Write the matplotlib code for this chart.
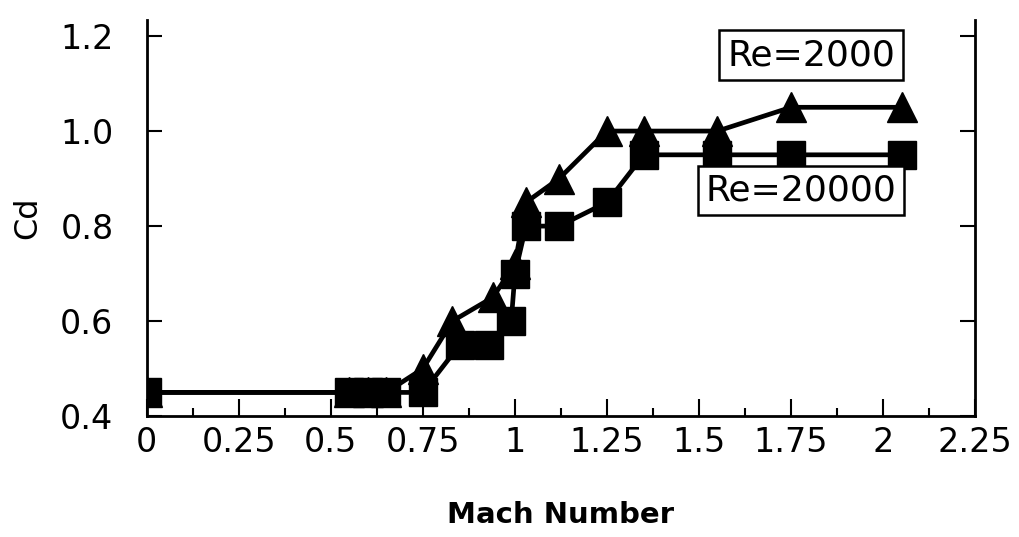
import numpy as np
import matplotlib.pyplot as plt
from matplotlib.ticker import MultipleLocator

# Re = 2000 (triangles)
mach_2000 = [0, 0.55, 0.6, 0.65, 0.75, 0.83, 0.94, 1.0, 1.03, 1.12, 1.25, 1.35, 1.55, 1.75, 2.05]
cd_2000 = [0.45, 0.45, 0.45, 0.45, 0.50, 0.60, 0.65, 0.72, 0.85, 0.90, 1.00, 1.00, 1.00, 1.05, 1.05]

# Re = 20000 (squares)
mach_20000 = [0, 0.55, 0.6, 0.65, 0.75, 0.85, 0.93, 0.99, 1.0, 1.03, 1.12, 1.25, 1.35, 1.55, 1.75, 2.05]
cd_20000 = [0.45, 0.45, 0.45, 0.45, 0.45, 0.55, 0.55, 0.60, 0.70, 0.80, 0.80, 0.85, 0.95, 0.95, 0.95, 0.95]

x_ticks = [0, 0.25, 0.5, 0.75, 1, 1.25, 1.5, 1.75, 2, 2.25]
x_labels = ['0', '0.25', '0.5', '0.75', '1', '1.25', '1.5', '1.75', '2', '2.25']
y_ticks = [0.4, 0.6, 0.8, 1.0, 1.2]
y_labels = ['0.4', '0.6', '0.8', '1.0', '1.2']

fig = plt.figure(figsize=(10.19, 5.37), dpi=100)
ax = fig.add_axes([0.144, 0.225, 0.813, 0.738])

ax.plot(mach_2000, cd_2000, color='black', lw=3.4, marker='^', ms=21)
ax.plot(mach_20000, cd_20000, color='black', lw=3.4, marker='s', ms=20)

ax.set_xlim(0, 2.25)
ax.set_ylim(0.4, 1.234)

ax.spines['top'].set_visible(False)
for s in ['left', 'right', 'bottom']:
    ax.spines[s].set_linewidth(2)

ax.set_xticks(x_ticks)
ax.set_xticklabels(x_labels)
ax.xaxis.set_minor_locator(MultipleLocator(0.125))
ax.set_yticks(y_ticks)
ax.set_yticklabels(y_labels)

ax.tick_params(axis='x', which='major', direction='in', length=12, width=1.5,
               labelsize=24, pad=7, top=False)
ax.tick_params(axis='x', which='minor', direction='in', length=6, width=1.5, top=False)
ax.tick_params(axis='y', which='major', direction='in', length=11, width=1.5,
               labelsize=24, pad=24, right=True)

ax.set_xlabel('Mach Number', fontsize=21, fontweight='bold', labelpad=30)
ax.set_ylabel('Cd', fontsize=23, labelpad=12)

box = dict(boxstyle='square,pad=0.22', facecolor='white', edgecolor='black', lw=1.8)
ax.text(1.805, 1.16, 'Re=2000', fontsize=26, ha='center', va='center', bbox=box)
ax.text(1.777, 0.875, 'Re=20000', fontsize=26, ha='center', va='center', bbox=box)

plt.savefig('out.png', dpi=100)
